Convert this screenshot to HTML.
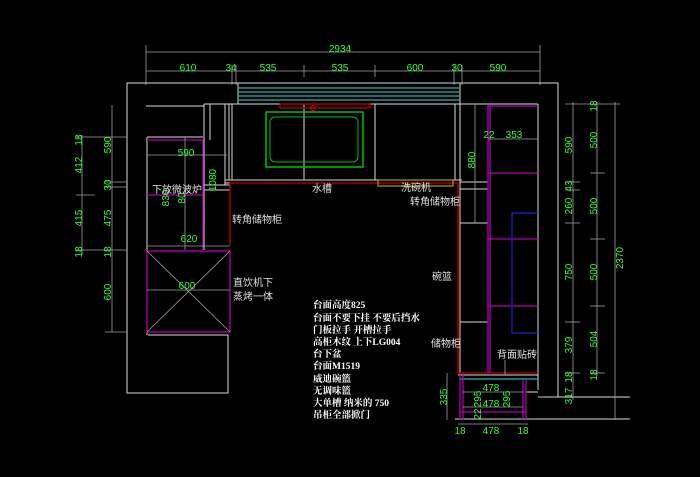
<!DOCTYPE html>
<html><head><meta charset="utf-8"><style>
html,body{margin:0;padding:0;background:#000;width:700px;height:477px;overflow:hidden}
svg{display:block}
.w{stroke:#d8d8d8;stroke-width:1;fill:none}
.m{stroke:#b000b0;stroke-width:1.3;fill:none}
.r{stroke:#c00000;stroke-width:1.3;fill:none}
.g{stroke:#00c000;stroke-width:1.5;fill:none}
.d{stroke:#a0a0a0;stroke-width:0.8;fill:none}
.c{stroke:#30b0b0;stroke-width:1.3}
text.n{fill:#33ff33;font-family:"Liberation Sans Narrow","Liberation Sans",sans-serif;font-size:10px;text-anchor:middle}
text.t{fill:#e0e0e0;font-family:"Liberation Sans","Noto Sans CJK SC",sans-serif;font-size:10px}
text.b{fill:#fff;font-family:"Liberation Serif","Noto Serif CJK SC",serif;font-size:9.5px;font-weight:bold}
</style></head><body>
<svg width="700" height="477" viewBox="0 0 700 477">
<!-- top dims -->
<g class="d">
<line x1="146" y1="52" x2="540" y2="52"/>
<line x1="146" y1="71" x2="540" y2="71"/>
<line x1="146" y1="45" x2="146" y2="85"/><line x1="540" y1="45" x2="540" y2="85"/>
<line x1="232" y1="65" x2="232" y2="85"/><line x1="236" y1="65" x2="236" y2="85"/>
<line x1="304" y1="65" x2="304" y2="77"/><line x1="375" y1="65" x2="375" y2="77"/>
<line x1="454" y1="65" x2="454" y2="85"/><line x1="462" y1="65" x2="462" y2="85"/>
</g>
<text class="n" x="340" y="52">2934</text>
<text class="n" x="188" y="71">610</text><text class="n" x="231" y="71">34</text>
<text class="n" x="268" y="71">535</text><text class="n" x="340" y="71">535</text>
<text class="n" x="415" y="71">600</text><text class="n" x="457" y="71">30</text>
<text class="n" x="498" y="71">590</text>

<!-- walls -->
<g class="w">
<polyline points="238,83 127,83 127,393 228,393 228,335 148,335"/>
<polyline points="460,83 558,83 558,397 538,397"/>
<line x1="238" y1="83" x2="460" y2="83"/>
<line x1="238" y1="83" x2="238" y2="104"/><line x1="460" y1="83" x2="460" y2="104"/>
<line x1="204" y1="104" x2="538" y2="104"/>
<line x1="146" y1="106" x2="204" y2="106"/>
<line x1="147" y1="137" x2="147" y2="335"/>
<line x1="147" y1="137" x2="203" y2="137"/>
<line x1="204" y1="104" x2="204" y2="145"/>
<line x1="210" y1="104" x2="210" y2="140"/>
<line x1="225" y1="104" x2="225" y2="185"/>
<line x1="229" y1="104" x2="229" y2="180"/>
<line x1="232" y1="104" x2="232" y2="180"/>
<line x1="304" y1="104" x2="304" y2="180"/>
<line x1="375" y1="104" x2="375" y2="180"/>
<line x1="455" y1="104" x2="455" y2="180"/>
<line x1="460" y1="104" x2="460" y2="373"/>
<line x1="225" y1="180" x2="462" y2="180"/>
<line x1="225" y1="183" x2="230" y2="183"/>
<line x1="204" y1="185" x2="230" y2="185"/>
<line x1="204" y1="190" x2="230" y2="190"/>
<line x1="204" y1="145" x2="204" y2="250"/>
<line x1="538" y1="104" x2="538" y2="390"/>
<line x1="460" y1="182" x2="488" y2="182"/>
<line x1="460" y1="189" x2="488" y2="189"/>
<line x1="460" y1="223" x2="488" y2="223"/>
<line x1="460" y1="322" x2="488" y2="322"/>
<line x1="458" y1="375" x2="538" y2="375"/>
<line x1="526" y1="392" x2="538" y2="392"/>
<line x1="455" y1="419" x2="630" y2="419"/>
<line x1="558" y1="397" x2="630" y2="397"/>
</g>
<!-- window -->
<line class="c" x1="238" y1="88" x2="460" y2="88"/>
<line class="c" x1="238" y1="92" x2="460" y2="92"/>
<line class="c" x1="238" y1="96" x2="460" y2="96"/>
<line class="c" x1="238" y1="100" x2="460" y2="100"/>
<rect x="280" y="104" width="90" height="4" class="r"/>
<circle cx="313" cy="108" r="2.5" class="r"/>
<!-- sink -->
<rect x="266" y="112" width="97" height="55" class="g"/>
<rect x="270" y="117" width="88" height="45" rx="5" class="g" style="stroke-width:1"/>
<!-- red counter -->
<polyline class="r" points="230,245 230,183 458,183 458,373 538,373"/>
<rect x="378" y="180" width="75" height="6" style="stroke:#b0a000;fill:none;stroke-width:1.2"/>
<!-- left cabinets magenta -->
<g class="m">
<polyline points="147,140 203,140 203,250"/>
<line x1="147" y1="195" x2="203" y2="195"/>
<rect x="147" y="251" width="83" height="81"/>
</g>
<g class="d">
<line x1="147" y1="251" x2="230" y2="332"/><line x1="230" y1="251" x2="147" y2="332"/>
<line x1="147" y1="246" x2="230" y2="246"/>
<line x1="147" y1="155" x2="227" y2="155"/>
<line x1="147" y1="290" x2="230" y2="290"/>
<line x1="185" y1="137" x2="185" y2="250"/>
</g>
<!-- right column magenta -->
<g class="m">
<line x1="488" y1="105" x2="488" y2="373"/>
<line x1="490" y1="105" x2="490" y2="373"/>
<line x1="488" y1="106" x2="538" y2="106"/>
<line x1="488" y1="173" x2="538" y2="173"/>
<line x1="488" y1="239" x2="538" y2="239"/>
<line x1="488" y1="306" x2="538" y2="306"/>
</g>
<polyline points="538,213 512,213 512,333 538,333" style="stroke:#2020c0;fill:none;stroke-width:1.3"/>
<line class="d" x1="488" y1="139" x2="538" y2="139"/>
<line class="d" x1="475" y1="104" x2="475" y2="223"/>
<!-- bottom small cabinet -->
<line class="c" x1="460" y1="379" x2="538" y2="379"/>
<g class="m">
<line x1="460" y1="375" x2="460" y2="420"/><line x1="463" y1="375" x2="463" y2="420"/>
<line x1="523" y1="380" x2="523" y2="420"/><line x1="526" y1="380" x2="526" y2="420"/>
<line x1="460" y1="412" x2="526" y2="412"/>
</g>
<g class="d">
<line x1="463" y1="392" x2="523" y2="392"/><line x1="463" y1="407" x2="523" y2="407"/>
<line x1="447" y1="373" x2="447" y2="420"/>
<line x1="458" y1="424" x2="528" y2="424"/>
</g>
<text class="n" x="491" y="391">478</text><text class="n" x="491" y="407">478</text>
<text class="n" transform="translate(481,399) rotate(-90)">295</text>
<text class="n" transform="translate(510,399) rotate(-90)">295</text>
<text class="n" transform="translate(481,414) rotate(-90)">22</text>
<text class="n" transform="translate(447,397) rotate(-90)">335</text>
<text class="n" x="460" y="434">18</text><text class="n" x="491" y="434">478</text><text class="n" x="523" y="434">18</text>

<!-- right dims -->
<g class="d">
<line x1="573" y1="102" x2="573" y2="400"/>
<line x1="597" y1="102" x2="597" y2="376"/>
<line x1="615" y1="102" x2="615" y2="420"/>
<line x1="565" y1="104" x2="620" y2="104"/>
<line x1="565" y1="182" x2="580" y2="182"/>
<line x1="565" y1="190" x2="580" y2="190"/>
<line x1="565" y1="223" x2="580" y2="223"/>
<line x1="565" y1="322" x2="580" y2="322"/>
<line x1="565" y1="373" x2="580" y2="373"/>
<line x1="590" y1="173" x2="605" y2="173"/>
<line x1="590" y1="239" x2="605" y2="239"/>
<line x1="590" y1="306" x2="605" y2="306"/>
<line x1="590" y1="373" x2="605" y2="373"/>
</g>
<text class="n" transform="translate(572,145) rotate(-90)">590</text>
<text class="n" transform="translate(572,186) rotate(-90)">43</text>
<text class="n" transform="translate(572,206) rotate(-90)">260</text>
<text class="n" transform="translate(572,272) rotate(-90)">750</text>
<text class="n" transform="translate(572,345) rotate(-90)">379</text>
<text class="n" transform="translate(572,377) rotate(-90)">18</text>
<text class="n" transform="translate(572,396) rotate(-90)">317</text>
<text class="n" transform="translate(597,106) rotate(-90)">18</text>
<text class="n" transform="translate(597,140) rotate(-90)">500</text>
<text class="n" transform="translate(597,206) rotate(-90)">500</text>
<text class="n" transform="translate(597,272) rotate(-90)">500</text>
<text class="n" transform="translate(597,339) rotate(-90)">504</text>
<text class="n" transform="translate(597,375) rotate(-90)">18</text>
<text class="n" transform="translate(623,258) rotate(-90)">2370</text>
<text class="n" transform="translate(475,160) rotate(-90)">880</text>
<text class="n" x="489" y="138">22</text><text class="n" x="514" y="138">353</text>

<!-- left dims -->
<g class="d">
<line x1="82" y1="135" x2="82" y2="255"/>
<line x1="112" y1="105" x2="112" y2="332"/>
<line x1="76" y1="137" x2="127" y2="137"/>
<line x1="76" y1="195" x2="95" y2="195"/>
<line x1="76" y1="250" x2="127" y2="250"/>
<line x1="105" y1="182" x2="127" y2="182"/>
<line x1="105" y1="187" x2="127" y2="187"/>
<line x1="105" y1="332" x2="127" y2="332"/>
</g>
<text class="n" transform="translate(82,140) rotate(-90)">18</text>
<text class="n" transform="translate(82,165) rotate(-90)">412</text>
<text class="n" transform="translate(82,218) rotate(-90)">415</text>
<text class="n" transform="translate(82,252) rotate(-90)">18</text>
<text class="n" transform="translate(111,145) rotate(-90)">590</text>
<text class="n" transform="translate(111,185) rotate(-90)">30</text>
<text class="n" transform="translate(111,218) rotate(-90)">475</text>
<text class="n" transform="translate(111,252) rotate(-90)">18</text>
<text class="n" transform="translate(111,292) rotate(-90)">600</text>
<text class="n" x="186" y="156">590</text>
<text class="n" x="189" y="242">620</text>
<text class="n" x="187" y="289">600</text>
<text class="n" transform="translate(216,180) rotate(-90)">1080</text>
<text class="n" transform="translate(169,198) rotate(-90)">830</text>
<text class="n" transform="translate(185,198) rotate(-90)">80</text>

<!-- labels -->
<text class="t" x="152" y="193">下放微波炉</text>
<text class="t" x="232" y="223">转角储物柜</text>
<text class="t" x="233" y="286">直饮机下</text>
<text class="t" x="233" y="300">蒸烤一体</text>
<text class="t" x="312" y="192">水槽</text>
<text class="t" x="401" y="191">洗碗机</text>
<text class="t" x="410" y="205">转角储物柜</text>
<text class="t" x="432" y="280">碗篮</text>
<text class="t" x="431" y="347">储物柜</text>
<text class="t" x="497" y="358">背面贴砖</text>
<line class="d" x1="505" y1="360" x2="505" y2="375"/>

<g>
<text class="b" x="313" y="308">台面高度825</text>
<text class="b" x="313" y="321">台面不要下挂  不要后挡水</text>
<text class="b" x="313" y="333">门板拉手  开槽拉手</text>
<text class="b" x="313" y="345">高柜木纹 上下LG004</text>
<text class="b" x="313" y="357">台下盆</text>
<text class="b" x="313" y="369">台面M1519</text>
<text class="b" x="313" y="382">威迪碗篮</text>
<text class="b" x="313" y="394">无调味篮</text>
<text class="b" x="313" y="406">大单槽  纳米的  750</text>
<text class="b" x="313" y="418">吊柜全部掀门</text>
</g>
</svg>
</body></html>
